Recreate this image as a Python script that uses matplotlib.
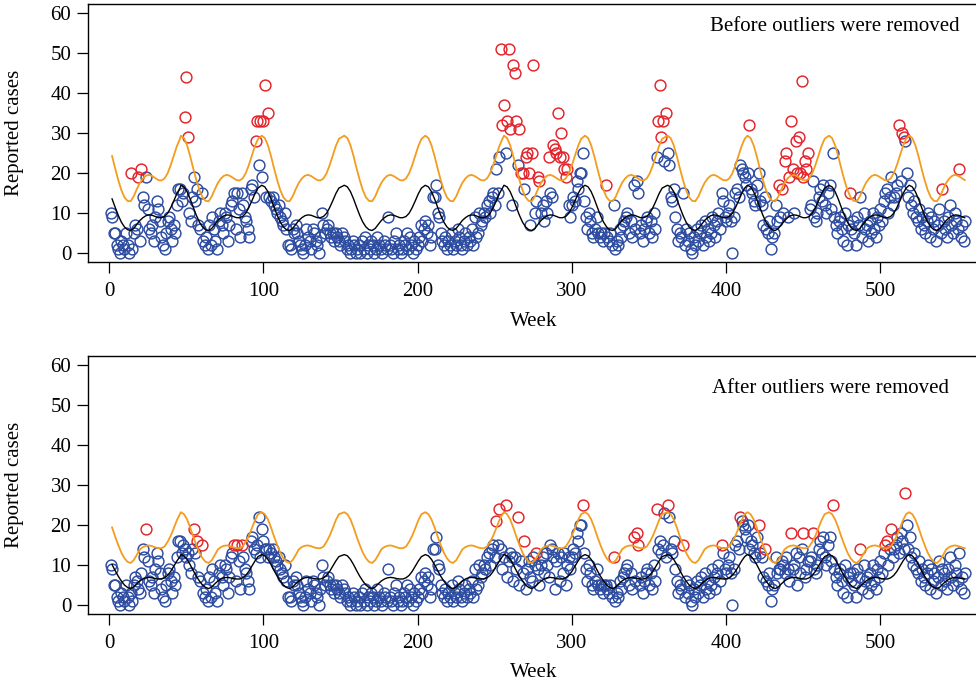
import numpy as np
import matplotlib.pyplot as plt

plt.rcParams["font.family"] = ["Liberation Serif", "DejaVu Serif"]

# weekly reported cases after the outliers were removed (week 1 .. 555)
cases_after = [
    10, 9, 5, 5, 2, 1, 0, 3, 2, 1,
    5, 2, 0, 3, 1, 5, 7, 6, 4, 3,
    8, 14, 12, 19, 11, 6, 5, 7, 3, 9,
    13, 11, 8, 4, 2, 1, 5, 8, 9, 6,
    3, 7, 5, 12, 16, 16, 13, 15, 14, 12,
    13, 10, 8, 14, 19, 13, 16, 7, 6, 15,
    3, 2, 4, 1, 7, 2, 9, 6, 3, 1,
    8, 10, 7, 5, 10, 9, 3, 7, 12, 13,
    15, 6, 15, 11, 4, 15, 12, 9, 8, 6,
    4, 16, 17, 14, 13, 15, 22, 12, 19, 16,
    14, 14, 12, 14, 13, 14, 12, 11, 10, 12,
    9, 8, 7, 10, 6, 2, 2, 1, 6, 5,
    7, 5, 3, 2, 1, 0, 2, 6, 4, 3,
    1, 6, 5, 3, 2, 0, 4, 10, 7, 5,
    6, 7, 5, 4, 5, 3, 5, 4, 3, 2,
    5, 4, 3, 1, 2, 0, 1, 3, 2, 0,
    1, 2, 0, 3, 1, 4, 0, 2, 1, 3,
    2, 0, 1, 4, 2, 1, 0, 3, 2, 1,
    9, 2, 1, 0, 3, 5, 1, 2, 0, 1,
    3, 2, 5, 1, 4, 2, 0, 3, 1, 2,
    4, 7, 3, 6, 8, 5, 7, 2, 4, 14,
    14, 17, 10, 9, 5, 3, 2, 4, 1, 3,
    2, 5, 1, 3, 2, 6, 4, 2, 1, 3,
    5, 2, 4, 3, 6, 2, 9, 4, 5, 10,
    7, 8, 10, 9, 12, 13, 10, 14, 15, 12,
    21, 15, 24, 14, 9, 12, 25, 7, 11, 13,
    12, 6, 12, 9, 22, 5, 11, 8, 16, 4,
    9, 11, 7, 6, 12, 10, 13, 9, 5, 10,
    12, 8, 13, 10, 7, 15, 14, 12, 4, 11,
    13, 6, 12, 8, 13, 5, 10, 12, 9, 12,
    14, 13, 18, 16, 20, 20, 25, 13, 9, 6,
    10, 8, 5, 4, 6, 9, 5, 4, 5, 3,
    5, 5, 4, 3, 5, 2, 12, 1, 3, 2,
    6, 4, 7, 8, 9, 10, 5, 8, 4, 17,
    6, 18, 15, 5, 7, 3, 6, 8, 9, 5,
    8, 4, 10, 6, 24, 14, 16, 13, 15, 23,
    12, 25, 22, 14, 13, 16, 9, 6, 3, 5,
    4, 15, 2, 6, 3, 5, 1, 0, 4, 2,
    6, 3, 5, 7, 2, 8, 4, 6, 3, 5,
    9, 7, 4, 8, 10, 6, 15, 13, 9, 8,
    10, 12, 8, 0, 9, 15, 16, 14, 22, 21,
    20, 19, 17, 20, 14, 16, 15, 13, 12, 17,
    20, 13, 12, 7, 14, 6, 5, 8, 1, 4,
    5, 12, 8, 9, 9, 11, 10, 8, 12, 9,
    6, 18, 9, 10, 13, 5, 12, 8, 14, 18,
    7, 9, 11, 11, 12, 18, 9, 8, 10, 14,
    16, 13, 17, 12, 10, 15, 17, 11, 25, 9,
    7, 5, 8, 9, 6, 3, 10, 2, 7, 8,
    6, 8, 5, 2, 9, 7, 14, 4, 10, 6,
    7, 3, 8, 5, 10, 6, 4, 9, 7, 11,
    8, 13, 15, 16, 10, 14, 19, 12, 14, 15,
    17, 13, 18, 16, 14, 28, 20, 14, 17, 12,
    10, 13, 9, 8, 11, 6, 9, 7, 5, 8,
    10, 4, 9, 6, 8, 3, 7, 11, 5, 9,
    8, 6, 4, 9, 12, 7, 5, 10, 8, 6,
    13, 4, 7, 3, 8,
]

# values that were flagged as outliers in the original series (week: cases)
outliers_before = {
    14: 20, 19: 19, 21: 21, 49: 34, 50: 44, 51: 29,
    95: 28, 96: 33, 98: 33, 100: 33, 101: 42, 103: 35,
    254: 51, 255: 32, 256: 37, 258: 33, 259: 51, 260: 31, 262: 47, 263: 45,
    264: 33, 266: 31, 267: 20, 268: 20, 270: 24, 271: 25, 272: 20, 274: 25,
    275: 47, 278: 19, 279: 18, 285: 24, 288: 27, 289: 26, 290: 25, 291: 35,
    292: 24, 293: 30, 294: 24, 295: 21, 296: 19, 297: 21,
    322: 17, 356: 33, 357: 42, 358: 29, 359: 33, 361: 35, 415: 32,
    434: 17, 436: 16, 438: 23, 439: 25, 441: 19, 442: 33, 443: 21, 445: 28,
    446: 20, 447: 29, 448: 20, 449: 43, 450: 19, 451: 23, 452: 21, 453: 25,
    480: 15, 512: 32, 514: 30, 515: 29, 540: 16, 551: 21,
}

# weeks still above the threshold after the outliers were removed
flagged_after = [24, 55, 57, 60, 81, 83, 86, 251, 253, 257, 265, 269, 277,
                 307, 327, 340, 342, 343, 355, 362, 372, 397, 409, 421, 425,
                 442, 450, 456, 469, 487, 503, 504, 507, 516]

# seasonal curves: weeks of each yearly peak and the profile after the peak
cycle_peaks = [-4.0, 46.6, 99.0, 152.5, 205.0, 256.0, 308.5, 362.0, 413.8, 466.6, 518.6]
profile_offsets = list(range(0, 52, 2))
mean_before = [17.0, 16.6, 15.4, 13.6, 11.5, 9.5, 7.8, 6.6, 5.9, 5.7, 6.2, 7.2, 8.2,
               8.9, 9.4, 9.6, 9.5, 9.2, 8.9, 8.9, 9.2, 10.0, 11.4, 13.1, 14.9, 16.3]
threshold_before = [29.4, 28.8, 27.0, 24.3, 21.2, 18.3, 15.8, 14.0, 13.1, 13.0, 14.2, 16.0, 17.6,
                    18.7, 19.4, 19.6, 19.3, 18.8, 18.3, 18.2, 18.7, 20.0, 22.0, 24.4, 26.8, 28.6]
mean_after = [12.6, 12.3, 11.4, 10.1, 8.6, 7.2, 6.0, 5.0, 4.4, 4.1, 4.5, 5.3, 6.0,
              6.5, 6.8, 6.9, 6.8, 6.6, 6.5, 6.5, 6.8, 7.4, 8.4, 9.7, 11.0, 12.1]
threshold_after = [23.2, 22.7, 21.4, 19.4, 17.1, 15.0, 13.1, 11.7, 10.8, 10.5, 11.2, 12.5, 13.9,
                   14.5, 14.8, 14.9, 14.7, 14.4, 14.2, 14.2, 14.6, 15.8, 17.3, 19.2, 21.2, 22.7]

BLUE = "#2d4c9f"
RED = "#e3232a"
ORANGE = "#f39c1e"

weeks = np.arange(1, len(cases_after) + 1)
last_week = weeks[-1]


def seasonal_line(profile):
    xs, ys = [], []
    for peak in cycle_peaks:
        for d, v in zip(profile_offsets, profile):
            w = peak + d
            if 1 <= w <= last_week:
                xs.append(w)
                ys.append(v)
    return xs, ys


def panel(ax, values, red_weeks, mean_profile, thr_profile, label, label_x, label_y):
    values = np.asarray(values)
    is_red = np.isin(weeks, list(red_weeks))
    ax.plot(weeks[~is_red], values[~is_red], "o", ls="none", mfc="none",
            mec=BLUE, ms=7.8, mew=1.05)
    ax.plot(weeks[is_red], values[is_red], "o", ls="none", mfc="none",
            mec=RED, ms=7.8, mew=1.05)
    ax.plot(*seasonal_line(thr_profile), color=ORANGE, lw=1.3)
    ax.plot(*seasonal_line(mean_profile), color="black", lw=1.0)

    ax.set_xlim(-13.6, 564.5)
    ax.set_ylim(-2.3, 62.3)
    ax.set_xticks(range(0, 501, 100))
    ax.set_yticks(range(0, 61, 10))
    ax.tick_params(direction="out", length=8, width=0.9, labelsize=15, pad=4)
    ax.tick_params(axis="x", pad=6)
    for s in ax.spines.values():
        s.set_linewidth(1.0)
    ax.set_xlabel("Week", fontsize=15)
    ax.set_ylabel("Reported cases", fontsize=15)
    ax.xaxis.set_label_coords(0.5, -0.19)
    ax.yaxis.set_label_coords(-0.072, 0.5)
    ax.text(label_x, label_y, label, ha="right", va="center", fontsize=15)


fig = plt.figure(figsize=(9.76, 6.85), dpi=100)
ax_top = fig.add_axes([88 / 976, 1 - 262.5 / 685, 892 / 976, 258.5 / 685])
ax_bot = fig.add_axes([88 / 976, 1 - 614.2 / 685, 892 / 976, 258.4 / 685])

values_before = list(cases_after)
for w, v in outliers_before.items():
    values_before[w - 1] = v

panel(ax_top, values_before, outliers_before.keys(), mean_before, threshold_before,
      "Before outliers were removed", 551.5, 56.8)
panel(ax_bot, cases_after, flagged_after, mean_after, threshold_after,
      "After outliers were removed", 544.4, 54.2)

fig.savefig("out.png", dpi=100)
